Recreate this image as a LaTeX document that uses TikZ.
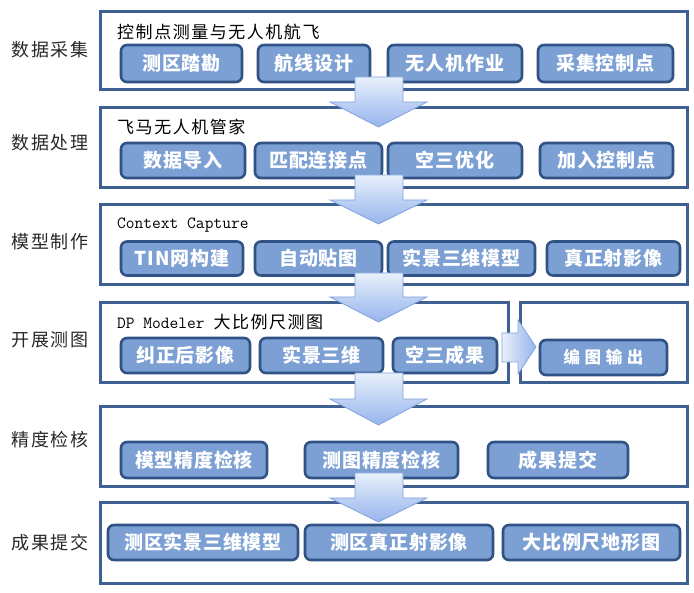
\documentclass[tikz,border=0pt]{standalone}
\usepackage{fontspec}
\setmainfont{Liberation Serif}
\newfontfamily\cjk{Noto Sans CJK SC}
\newfontfamily\cjkhead[LetterSpace=9]{Noto Sans CJK SC}
\newfontfamily\cjkbox[LetterSpace=4]{Noto Sans CJK SC}
\newfontfamily\cjkwide[LetterSpace=28]{Noto Sans CJK SC}
\newfontfamily\monofnt{Latin Modern Mono}
\definecolor{outerc}{RGB}{62,96,146}
\definecolor{innerf}{RGB}{124,160,212}
\definecolor{innerd}{RGB}{48,82,132}
\definecolor{arrowd}{RGB}{130,164,220}
\definecolor{arrowt}{RGB}{232,240,252}
\definecolor{arrowb}{RGB}{150,180,236}
\definecolor{labelc}{RGB}{40,40,40}
\tikzset{
  obox/.style={draw=outerc, line width=3pt, fill=white, inner sep=0pt},
  ibox/.style={draw=innerd, line width=2.6pt, fill=innerf, rounded corners=6pt,
    inner sep=0pt, text=white, font=\cjkbox\bfseries\fontsize{19}{19}\selectfont},
  rowlabel/.style={font=\cjkhead\fontsize{18}{18}\selectfont, text=labelc, inner sep=0pt},
  headtxt/.style={font=\cjkhead\fontsize{17}{17}\selectfont, text=black, inner sep=0pt, anchor=west},
  blockarrow/.style={draw=arrowd, line width=0.8pt, top color=arrowt, bottom color=arrowb},
  rarrow/.style={draw=arrowd, line width=0.8pt, left color=arrowt, right color=arrowb},
}
\newcommand{\downarrowblock}[3]{%
  \path[blockarrow] (355,#1) -- (403,#1) -- (403,#2) -- (427,#2) -- (378.5,#3)
    -- (330,#2) -- (355,#2) -- cycle;}
\begin{document}
\begin{tikzpicture}[x=1pt,y=-1pt]
\useasboundingbox (0,0) rectangle (694,593);

% outer boxes
\node[obox, minimum width=587pt, minimum height=78pt] (o1) at (393.5,51) {};
\node[obox, minimum width=587pt, minimum height=80pt] (o2) at (393.5,148) {};
\node[obox, minimum width=587pt, minimum height=80pt] (o3) at (393.5,245) {};
\node[obox, minimum width=408pt, minimum height=80pt] (o4) at (304,343) {};
\node[obox, minimum width=167pt, minimum height=80pt] (o4r) at (603.5,343) {};
\node[obox, minimum width=587pt, minimum height=80pt] (o5) at (393.5,447) {};
\node[obox, minimum width=587pt, minimum height=80pt] (o6) at (393.5,543) {};

% row labels
\node[rowlabel] (l1) at (50,50) {数据采集};
\node[rowlabel] (l2) at (50,143) {数据处理};
\node[rowlabel] (l3) at (50,242) {模型制作};
\node[rowlabel] (l4) at (50,340) {开展测图};
\node[rowlabel] (l5) at (50,440) {精度检核};
\node[rowlabel] (l6) at (50,543) {成果提交};

% headers
\node[headtxt] (h1) at (117,32) {控制点测量与无人机航飞};
\node[headtxt] (h2) at (117,127) {飞马无人机管家};
\node[headtxt, font=\monofnt\fontsize{17}{17}\selectfont] (h3) at (117,225) {Context Capture};
\node[headtxt] (h4) at (117,322) {{\monofnt\fontsize{17}{17}\selectfont DP Modeler }大比例尺测图};

% row 1
\node[ibox, minimum width=121pt, minimum height=37pt] (a1) at (181.5,63.5) {测区踏勘};
\node[ibox, minimum width=112pt, minimum height=37pt] (a2) at (314,63.5) {航线设计};
\node[ibox, minimum width=134pt, minimum height=37pt] (a3) at (455,63.5) {无人机作业};
\node[ibox, minimum width=135pt, minimum height=37pt] (a4) at (605.5,63.5) {采集控制点};
% row 2
\node[ibox, minimum width=124pt, minimum height=35pt] (b1) at (183,160.5) {数据导入};
\node[ibox, minimum width=127pt, minimum height=35pt] (b2) at (318.5,160.5) {匹配连接点};
\node[ibox, minimum width=134pt, minimum height=35pt] (b3) at (455,160.5) {空三优化};
\node[ibox, minimum width=133pt, minimum height=35pt] (b4) at (606.5,160.5) {加入控制点};
% row 3
\node[ibox, minimum width=122pt, minimum height=34pt] (c1) at (182,258.5) {TIN网构建};
\node[ibox, minimum width=127pt, minimum height=34pt] (c2) at (318.5,258.5) {自动贴图};
\node[ibox, minimum width=147pt, minimum height=34pt] (c3) at (461.5,258.5) {实景三维模型};
\node[ibox, minimum width=133pt, minimum height=34pt] (c4) at (613.5,258.5) {真正射影像};
% row 4
\node[ibox, minimum width=129pt, minimum height=35pt] (d1) at (185.5,355.5) {纠正后影像};
\node[ibox, minimum width=123pt, minimum height=35pt] (d2) at (321.5,355.5) {实景三维};
\node[ibox, minimum width=104pt, minimum height=35pt] (d3) at (445,355.5) {空三成果};
\node[ibox, minimum width=127pt, minimum height=35pt, font=\cjkwide\bfseries\fontsize{16.5}{17}\selectfont] (d4) at (603.5,357.5) {编图输出};
% row 5
\node[ibox, minimum width=146pt, minimum height=36pt] (e1) at (194,460) {模型精度检核};
\node[ibox, minimum width=153pt, minimum height=36pt] (e2) at (381.5,460) {测图精度检核};
\node[ibox, minimum width=140pt, minimum height=36pt] (e3) at (558,460) {成果提交};
% row 6
\node[ibox, minimum width=190pt, minimum height=35pt] (f1) at (203,542.5) {测区实景三维模型};
\node[ibox, minimum width=188pt, minimum height=35pt] (f2) at (399,542.5) {测区真正射影像};
\node[ibox, minimum width=177pt, minimum height=35pt] (f3) at (591.5,542.5) {大比例尺地形图};

% block arrows
\downarrowblock{77}{102}{127}
\downarrowblock{175}{200}{224}
\downarrowblock{273}{297}{322}
\downarrowblock{373}{399}{425}
\downarrowblock{473}{498}{522}
\path[rarrow] (502,333) -- (518,333) -- (518,320) -- (536,347) -- (518,374)
  -- (518,362) -- (502,362) -- cycle;
\end{tikzpicture}
\end{document}
